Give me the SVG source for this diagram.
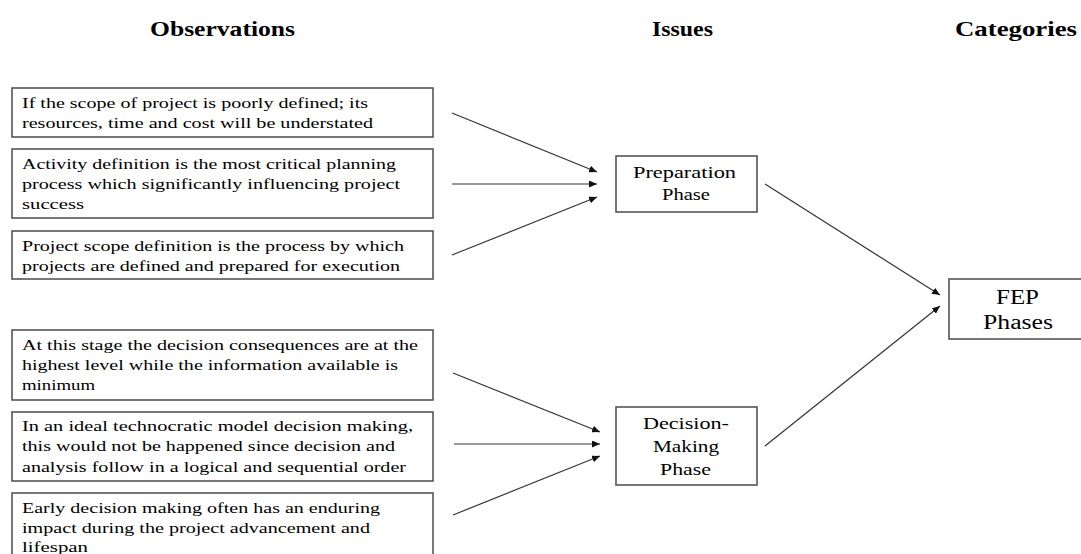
<svg xmlns="http://www.w3.org/2000/svg" width="1081" height="554" viewBox="0 0 1081 554">
<defs>
<style>
.box{fill:#fff;stroke:#555;stroke-width:1.6}
.t{font-family:"Liberation Serif","Times New Roman",serif;font-size:15.5px;fill:#000}
.c{font-family:"Liberation Serif","Times New Roman",serif;font-size:17.5px;fill:#000}
.f{font-family:"Liberation Serif","Times New Roman",serif;font-size:20px;fill:#000}
.h{font-family:"Liberation Serif","Times New Roman",serif;font-size:21px;font-weight:bold;fill:#000}
.conn line{stroke:#333;stroke-width:1.2;marker-end:url(#arr)}
</style>
<marker id="arr" markerUnits="userSpaceOnUse" markerWidth="9" markerHeight="7" refX="8" refY="3.5" orient="auto">
<path d="M0,0 L8,3.5 L0,7 z" fill="#111"/>
</marker>
</defs>
<rect width="1081" height="554" fill="#fff"/>
<g id="headings">
<text class="h" x="150" y="36" textLength="145" lengthAdjust="spacingAndGlyphs">Observations</text>
<text class="h" x="652" y="36" textLength="61" lengthAdjust="spacingAndGlyphs">Issues</text>
<text class="h" x="955" y="36" textLength="122" lengthAdjust="spacingAndGlyphs">Categories</text>
</g>
<g id="obs1">
<rect class="box" x="12" y="88" width="421" height="49"/>
<text class="t" x="22" y="108" textLength="346" lengthAdjust="spacingAndGlyphs">If the scope of project is  poorly defined;  its</text>
<text class="t" x="22" y="128" textLength="351" lengthAdjust="spacingAndGlyphs">resources, time  and cost will  be understated</text>
</g>
<g id="obs2">
<rect class="box" x="12" y="149" width="421" height="69"/>
<text class="t" x="22" y="169" textLength="374" lengthAdjust="spacingAndGlyphs">Activity  definition  is the most critical  planning</text>
<text class="t" x="22" y="189" textLength="378" lengthAdjust="spacingAndGlyphs">process which significantly  influencing  project</text>
<text class="t" x="22" y="209" textLength="62" lengthAdjust="spacingAndGlyphs">success</text>
</g>
<g id="obs3">
<rect class="box" x="12" y="231" width="421" height="48"/>
<text class="t" x="22" y="251" textLength="382" lengthAdjust="spacingAndGlyphs">Project scope definition  is the process by which</text>
<text class="t" x="22" y="271" textLength="378" lengthAdjust="spacingAndGlyphs">projects are defined and prepared for execution</text>
</g>
<g id="obs4">
<rect class="box" x="12" y="330" width="421" height="70"/>
<text class="t" x="22" y="350" textLength="396" lengthAdjust="spacingAndGlyphs">At this stage the decision consequences are at the</text>
<text class="t" x="22" y="370" textLength="376" lengthAdjust="spacingAndGlyphs">highest level while the information available is</text>
<text class="t" x="22" y="390" textLength="73" lengthAdjust="spacingAndGlyphs">minimum</text>
</g>
<g id="obs5">
<rect class="box" x="12" y="412" width="421" height="69"/>
<text class="t" x="22" y="431" textLength="391" lengthAdjust="spacingAndGlyphs">In an ideal technocratic model decision making,</text>
<text class="t" x="22" y="451" textLength="373" lengthAdjust="spacingAndGlyphs">this would not be happened since decision and</text>
<text class="t" x="22" y="472" textLength="384" lengthAdjust="spacingAndGlyphs">analysis follow in a logical and sequential order</text>
</g>
<g id="obs6">
<rect class="box" x="12" y="493" width="421" height="70"/>
<text class="t" x="22" y="513" textLength="358" lengthAdjust="spacingAndGlyphs">Early decision making often has an enduring</text>
<text class="t" x="22" y="533" textLength="348" lengthAdjust="spacingAndGlyphs">impact during the project advancement and</text>
<text class="t" x="22" y="552" textLength="66" lengthAdjust="spacingAndGlyphs">lifespan</text>
</g>
<g id="prep">
<rect class="box" x="616" y="156" width="141" height="56"/>
<text class="c" x="633" y="178" textLength="103" lengthAdjust="spacingAndGlyphs">Preparation</text>
<text class="c" x="662" y="200" textLength="48" lengthAdjust="spacingAndGlyphs">Phase</text>
</g>
<g id="decision">
<rect class="box" x="616" y="407" width="141" height="78"/>
<text class="c" x="643" y="429" textLength="86" lengthAdjust="spacingAndGlyphs">Decision-</text>
<text class="c" x="653" y="452" textLength="66" lengthAdjust="spacingAndGlyphs">Making</text>
<text class="c" x="660" y="475" textLength="51" lengthAdjust="spacingAndGlyphs">Phase</text>
</g>
<g id="fep">
<rect class="box" x="949" y="279" width="140" height="60"/>
<text class="f" x="996" y="304" textLength="43" lengthAdjust="spacingAndGlyphs">FEP</text>
<text class="f" x="983" y="329" textLength="70" lengthAdjust="spacingAndGlyphs">Phases</text>
</g>
<g id="connectors" class="conn">
<line x1="452" y1="113" x2="597" y2="172"/>
<line x1="452" y1="184" x2="597" y2="184"/>
<line x1="452" y1="255" x2="597" y2="197"/>
<line x1="453" y1="373" x2="600" y2="432"/>
<line x1="454" y1="444" x2="600" y2="444"/>
<line x1="453" y1="515" x2="600" y2="456"/>
<line x1="765" y1="184" x2="940" y2="295"/>
<line x1="765" y1="446" x2="940" y2="306"/>
</g>
</svg>
